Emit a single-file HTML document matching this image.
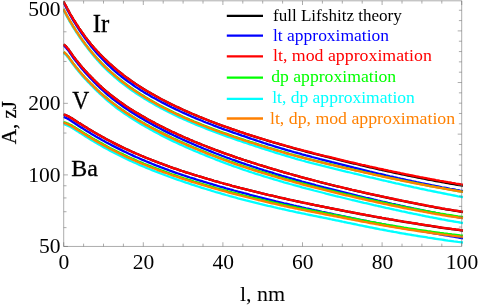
<!DOCTYPE html>
<html><head><meta charset="utf-8"><title>plot</title>
<style>
html,body{margin:0;padding:0;background:#fff;}
body{width:478px;height:305px;overflow:hidden;font-family:"Liberation Serif",serif;}
svg{display:block;font-family:"Liberation Serif",serif;will-change:transform;}
.curves path{fill:none;stroke-width:2.3;stroke-linejoin:round;}
</style></head><body>
<svg width="478" height="305" viewBox="0 0 478 305">
<rect width="478" height="305" fill="#fff"/>
<defs><clipPath id="cp"><rect x="63.2" y="-0.19999999999999996" width="400.2" height="246.64999999999998"/></clipPath></defs>
<g class="curves" clip-path="url(#cp)">
<path d="M63.5,1.4 64.2,2.8 65.0,4.3 65.8,5.7 66.5,7.1 67.2,8.6 68.0,9.9 68.8,11.3 69.5,12.7 70.2,14.0 71.0,15.3 71.8,16.6 72.5,17.8 73.2,19.1 74.0,20.3 74.8,21.5 75.5,22.7 76.2,23.9 77.0,25.0 77.8,26.2 78.5,27.3 79.2,28.4 80.0,29.5 80.8,30.6 81.5,31.7 82.2,32.8 83.0,33.8 83.8,34.9 84.5,35.9 85.2,36.9 86.0,37.9 86.8,38.8 87.5,39.8 88.2,40.8 89.0,41.7 89.8,42.6 90.5,43.6 91.2,44.5 92.0,45.4 92.8,46.2 93.5,47.1 94.2,48.0 95.0,48.8 95.8,49.7 96.5,50.5 97.2,51.3 98.0,52.1 98.8,52.9 99.5,53.7 100.0,54.2 102.0,56.3 104.0,58.3 106.0,60.2 108.0,62.1 110.0,64.0 112.0,65.7 114.0,67.5 116.0,69.2 118.0,70.8 120.0,72.4 122.0,74.0 124.0,75.6 126.0,77.1 128.0,78.5 130.0,80.0 132.0,81.4 134.0,82.8 136.0,84.1 138.0,85.4 140.0,86.7 142.0,88.0 144.0,89.2 146.0,90.5 148.0,91.7 150.0,92.8 152.0,94.0 154.0,95.1 156.0,96.2 158.0,97.3 160.0,98.4 162.0,99.5 164.0,100.5 166.0,101.6 168.0,102.6 170.0,103.6 172.0,104.6 174.0,105.5 176.0,106.5 178.0,107.4 180.0,108.4 182.0,109.3 184.0,110.2 186.0,111.1 188.0,112.0 190.0,112.9 192.0,113.7 194.0,114.6 196.0,115.4 198.0,116.3 200.0,117.1 202.0,117.9 204.0,118.7 206.0,119.5 208.0,120.3 210.0,121.1 212.0,121.8 214.0,122.6 216.0,123.4 218.0,124.1 220.0,124.8 222.0,125.6 224.0,126.3 226.0,127.0 228.0,127.7 230.0,128.4 232.0,129.1 234.0,129.8 236.0,130.5 238.0,131.2 240.0,131.9 242.0,132.5 244.0,133.2 246.0,133.9 248.0,134.5 250.0,135.2 252.0,135.8 254.0,136.4 256.0,137.1 258.0,137.7 260.0,138.3 262.0,138.9 264.0,139.5 266.0,140.2 268.0,140.8 270.0,141.4 272.0,142.0 274.0,142.6 276.0,143.1 278.0,143.7 280.0,144.3 282.0,144.9 284.0,145.5 286.0,146.0 288.0,146.6 290.0,147.2 292.0,147.7 294.0,148.3 296.0,148.8 298.0,149.4 300.0,149.9 302.0,150.5 304.0,151.0 306.0,151.6 308.0,152.1 310.0,152.6 312.0,153.1 314.0,153.7 316.0,154.2 318.0,154.7 320.0,155.2 322.0,155.7 324.0,156.2 326.0,156.7 328.0,157.2 330.0,157.7 332.0,158.2 334.0,158.7 336.0,159.2 338.0,159.7 340.0,160.2 342.0,160.7 344.0,161.2 346.0,161.6 348.0,162.1 350.0,162.6 352.0,163.1 354.0,163.5 356.0,164.0 358.0,164.5 360.0,165.0 362.0,165.4 364.0,165.9 366.0,166.4 368.0,166.8 370.0,167.3 372.0,167.7 374.0,168.2 376.0,168.6 378.0,169.1 380.0,169.5 382.0,170.0 384.0,170.4 386.0,170.9 388.0,171.3 390.0,171.7 392.0,172.1 394.0,172.6 396.0,173.0 398.0,173.4 400.0,173.8 402.0,174.3 404.0,174.7 406.0,175.1 408.0,175.5 410.0,175.9 412.0,176.3 414.0,176.7 416.0,177.1 418.0,177.5 420.0,177.9 422.0,178.3 424.0,178.7 426.0,179.1 428.0,179.5 430.0,179.9 432.0,180.2 434.0,180.6 436.0,181.0 438.0,181.3 440.0,181.7 442.0,182.1 444.0,182.4 446.0,182.8 448.0,183.1 450.0,183.5 452.0,183.8 454.0,184.2 456.0,184.5 458.0,184.9 460.0,185.2 462.0,185.6 463.0,185.7" stroke="#000000"/>
<path d="M63.5,2.4 64.2,3.8 65.0,5.3 65.8,6.8 66.5,8.2 67.2,9.6 68.0,11.1 68.8,12.4 69.5,13.8 70.2,15.2 71.0,16.5 71.8,17.8 72.5,19.1 73.2,20.4 74.0,21.6 74.8,22.8 75.5,24.0 76.2,25.2 77.0,26.4 77.8,27.6 78.5,28.7 79.2,29.9 80.0,31.0 80.8,32.2 81.5,33.3 82.2,34.4 83.0,35.4 83.8,36.5 84.5,37.6 85.2,38.6 86.0,39.6 86.8,40.6 87.5,41.6 88.2,42.6 89.0,43.6 89.8,44.6 90.5,45.5 91.2,46.5 92.0,47.4 92.8,48.3 93.5,49.2 94.2,50.1 95.0,51.0 95.8,51.9 96.5,52.7 97.2,53.6 98.0,54.4 98.8,55.3 99.5,56.1 100.0,56.6 102.0,58.8 104.0,60.8 106.0,62.9 108.0,64.8 110.0,66.7 112.0,68.6 114.0,70.4 116.0,72.1 118.0,73.8 120.0,75.4 122.0,77.0 124.0,78.5 126.0,80.0 128.0,81.5 130.0,82.9 132.0,84.3 134.0,85.7 136.0,87.1 138.0,88.4 140.0,89.7 142.0,90.9 144.0,92.2 146.0,93.4 148.0,94.6 150.0,95.7 152.0,96.9 154.0,98.0 156.0,99.1 158.0,100.2 160.0,101.3 162.0,102.4 164.0,103.4 166.0,104.4 168.0,105.5 170.0,106.5 172.0,107.5 174.0,108.4 176.0,109.4 178.0,110.3 180.0,111.3 182.0,112.2 184.0,113.1 186.0,114.0 188.0,114.9 190.0,115.8 192.0,116.7 194.0,117.5 196.0,118.4 198.0,119.2 200.0,120.0 202.0,120.8 204.0,121.7 206.0,122.5 208.0,123.2 210.0,124.0 212.0,124.8 214.0,125.6 216.0,126.3 218.0,127.1 220.0,127.8 222.0,128.6 224.0,129.3 226.0,130.0 228.0,130.7 230.0,131.4 232.0,132.1 234.0,132.8 236.0,133.5 238.0,134.2 240.0,134.9 242.0,135.6 244.0,136.2 246.0,136.9 248.0,137.6 250.0,138.3 252.0,139.0 254.0,139.6 256.0,140.3 258.0,141.0 260.0,141.6 262.0,142.3 264.0,143.0 266.0,143.6 268.0,144.3 270.0,144.9 272.0,145.5 274.0,146.2 276.0,146.8 278.0,147.4 280.0,148.0 282.0,148.6 284.0,149.2 286.0,149.8 288.0,150.4 290.0,150.9 292.0,151.5 294.0,152.1 296.0,152.6 298.0,153.2 300.0,153.7 302.0,154.3 304.0,154.8 306.0,155.4 308.0,155.9 310.0,156.4 312.0,157.0 314.0,157.5 316.0,158.0 318.0,158.5 320.0,159.1 322.0,159.6 324.0,160.1 326.0,160.6 328.0,161.1 330.0,161.6 332.0,162.2 334.0,162.7 336.0,163.2 338.0,163.7 340.0,164.2 342.0,164.7 344.0,165.2 346.0,165.7 348.0,166.2 350.0,166.7 352.0,167.2 354.0,167.7 356.0,168.1 358.0,168.6 360.0,169.1 362.0,169.6 364.0,170.1 366.0,170.6 368.0,171.1 370.0,171.6 372.0,172.0 374.0,172.5 376.0,173.0 378.0,173.5 380.0,174.0 382.0,174.4 384.0,174.9 386.0,175.4 388.0,175.8 390.0,176.3 392.0,176.7 394.0,177.2 396.0,177.6 398.0,178.1 400.0,178.5 402.0,179.0 404.0,179.4 406.0,179.9 408.0,180.3 410.0,180.7 412.0,181.2 414.0,181.6 416.0,182.0 418.0,182.5 420.0,182.9 422.0,183.3 424.0,183.7 426.0,184.1 428.0,184.5 430.0,184.9 432.0,185.3 434.0,185.7 436.0,186.1 438.0,186.5 440.0,186.9 442.0,187.3 444.0,187.6 446.0,188.0 448.0,188.4 450.0,188.8 452.0,189.1 454.0,189.5 456.0,189.9 458.0,190.2 460.0,190.6 462.0,190.9 463.0,191.1" stroke="#0000ff"/>
<path d="M63.5,1.4 64.2,2.8 65.0,4.3 65.8,5.7 66.5,7.1 67.2,8.6 68.0,9.9 68.8,11.3 69.5,12.7 70.2,14.0 71.0,15.3 71.8,16.6 72.5,17.8 73.2,19.1 74.0,20.3 74.8,21.5 75.5,22.7 76.2,23.9 77.0,25.0 77.8,26.2 78.5,27.3 79.2,28.4 80.0,29.5 80.8,30.6 81.5,31.7 82.2,32.8 83.0,33.8 83.8,34.8 84.5,35.9 85.2,36.9 86.0,37.9 86.8,38.8 87.5,39.8 88.2,40.8 89.0,41.7 89.8,42.6 90.5,43.6 91.2,44.5 92.0,45.4 92.8,46.2 93.5,47.1 94.2,48.0 95.0,48.8 95.8,49.7 96.5,50.5 97.2,51.3 98.0,52.1 98.8,52.9 99.5,53.7 100.0,54.2 102.0,56.3 104.0,58.3 106.0,60.2 108.0,62.1 110.0,63.9 112.0,65.7 114.0,67.5 116.0,69.2 118.0,70.8 120.0,72.4 122.0,74.0 124.0,75.6 126.0,77.1 128.0,78.5 130.0,80.0 132.0,81.4 134.0,82.7 136.0,84.1 138.0,85.4 140.0,86.7 142.0,88.0 144.0,89.2 146.0,90.4 148.0,91.6 150.0,92.8 152.0,94.0 154.0,95.1 156.0,96.2 158.0,97.3 160.0,98.4 162.0,99.5 164.0,100.5 166.0,101.5 168.0,102.6 170.0,103.6 172.0,104.5 174.0,105.5 176.0,106.5 178.0,107.4 180.0,108.3 182.0,109.3 184.0,110.2 186.0,111.1 188.0,111.9 190.0,112.8 192.0,113.7 194.0,114.5 196.0,115.4 198.0,116.2 200.0,117.0 202.0,117.8 204.0,118.6 206.0,119.4 208.0,120.2 210.0,121.0 212.0,121.8 214.0,122.5 216.0,123.3 218.0,124.0 220.0,124.8 222.0,125.5 224.0,126.2 226.0,126.9 228.0,127.7 230.0,128.4 232.0,129.1 234.0,129.7 236.0,130.4 238.0,131.1 240.0,131.8 242.0,132.4 244.0,133.1 246.0,133.8 248.0,134.4 250.0,135.1 252.0,135.7 254.0,136.3 256.0,136.9 258.0,137.6 260.0,138.2 262.0,138.8 264.0,139.4 266.0,140.0 268.0,140.6 270.0,141.2 272.0,141.8 274.0,142.4 276.0,143.0 278.0,143.5 280.0,144.1 282.0,144.7 284.0,145.2 286.0,145.8 288.0,146.4 290.0,146.9 292.0,147.5 294.0,148.0 296.0,148.5 298.0,149.1 300.0,149.6 302.0,150.1 304.0,150.7 306.0,151.2 308.0,151.7 310.0,152.2 312.0,152.7 314.0,153.3 316.0,153.8 318.0,154.3 320.0,154.8 322.0,155.3 324.0,155.8 326.0,156.3 328.0,156.7 330.0,157.2 332.0,157.7 334.0,158.2 336.0,158.7 338.0,159.2 340.0,159.6 342.0,160.1 344.0,160.6 346.0,161.1 348.0,161.5 350.0,162.0 352.0,162.5 354.0,162.9 356.0,163.4 358.0,163.9 360.0,164.3 362.0,164.8 364.0,165.2 366.0,165.7 368.0,166.1 370.0,166.6 372.0,167.0 374.0,167.5 376.0,167.9 378.0,168.4 380.0,168.8 382.0,169.2 384.0,169.7 386.0,170.1 388.0,170.5 390.0,171.0 392.0,171.4 394.0,171.8 396.0,172.2 398.0,172.6 400.0,173.0 402.0,173.5 404.0,173.9 406.0,174.3 408.0,174.7 410.0,175.1 412.0,175.5 414.0,175.9 416.0,176.3 418.0,176.7 420.0,177.1 422.0,177.4 424.0,177.8 426.0,178.2 428.0,178.6 430.0,179.0 432.0,179.3 434.0,179.7 436.0,180.1 438.0,180.4 440.0,180.8 442.0,181.1 444.0,181.5 446.0,181.8 448.0,182.2 450.0,182.5 452.0,182.9 454.0,183.2 456.0,183.6 458.0,183.9 460.0,184.2 462.0,184.6 463.0,184.7" stroke="#ff0000"/>
<path d="M63.5,9.2 64.2,10.6 65.0,12.0 65.8,13.4 66.5,14.8 67.2,16.1 68.0,17.5 68.8,18.8 69.5,20.1 70.2,21.4 71.0,22.7 71.8,23.9 72.5,25.1 73.2,26.4 74.0,27.5 74.8,28.7 75.5,29.9 76.2,31.0 77.0,32.2 77.8,33.3 78.5,34.4 79.2,35.5 80.0,36.6 80.8,37.7 81.5,38.8 82.2,39.9 83.0,40.9 83.8,41.9 84.5,43.0 85.2,44.0 86.0,45.0 86.8,45.9 87.5,46.9 88.2,47.9 89.0,48.8 89.8,49.8 90.5,50.7 91.2,51.6 92.0,52.5 92.8,53.4 93.5,54.3 94.2,55.1 95.0,56.0 95.8,56.8 96.5,57.7 97.2,58.5 98.0,59.3 98.8,60.1 99.5,60.9 100.0,61.4 102.0,63.5 104.0,65.5 106.0,67.5 108.0,69.4 110.0,71.2 112.0,73.0 114.0,74.7 116.0,76.4 118.0,78.0 120.0,79.6 122.0,81.2 124.0,82.7 126.0,84.2 128.0,85.7 130.0,87.1 132.0,88.5 134.0,89.9 136.0,91.2 138.0,92.5 140.0,93.8 142.0,95.1 144.0,96.3 146.0,97.6 148.0,98.7 150.0,99.9 152.0,101.1 154.0,102.2 156.0,103.3 158.0,104.4 160.0,105.5 162.0,106.5 164.0,107.6 166.0,108.6 168.0,109.6 170.0,110.6 172.0,111.6 174.0,112.6 176.0,113.5 178.0,114.4 180.0,115.4 182.0,116.3 184.0,117.2 186.0,118.1 188.0,118.9 190.0,119.8 192.0,120.6 194.0,121.5 196.0,122.3 198.0,123.1 200.0,123.9 202.0,124.7 204.0,125.5 206.0,126.3 208.0,127.1 210.0,127.8 212.0,128.6 214.0,129.4 216.0,130.1 218.0,130.8 220.0,131.6 222.0,132.3 224.0,133.0 226.0,133.7 228.0,134.4 230.0,135.1 232.0,135.8 234.0,136.5 236.0,137.1 238.0,137.8 240.0,138.5 242.0,139.2 244.0,139.8 246.0,140.5 248.0,141.1 250.0,141.8 252.0,142.4 254.0,143.1 256.0,143.7 258.0,144.3 260.0,145.0 262.0,145.6 264.0,146.2 266.0,146.8 268.0,147.5 270.0,148.1 272.0,148.7 274.0,149.3 276.0,149.9 278.0,150.5 280.0,151.1 282.0,151.7 284.0,152.2 286.0,152.8 288.0,153.4 290.0,154.0 292.0,154.5 294.0,155.1 296.0,155.6 298.0,156.2 300.0,156.7 302.0,157.2 304.0,157.8 306.0,158.3 308.0,158.8 310.0,159.3 312.0,159.8 314.0,160.3 316.0,160.8 318.0,161.3 320.0,161.8 322.0,162.3 324.0,162.8 326.0,163.3 328.0,163.8 330.0,164.2 332.0,164.7 334.0,165.2 336.0,165.6 338.0,166.1 340.0,166.6 342.0,167.0 344.0,167.5 346.0,168.0 348.0,168.4 350.0,168.9 352.0,169.3 354.0,169.8 356.0,170.3 358.0,170.7 360.0,171.2 362.0,171.6 364.0,172.1 366.0,172.5 368.0,173.0 370.0,173.4 372.0,173.9 374.0,174.3 376.0,174.8 378.0,175.2 380.0,175.7 382.0,176.1 384.0,176.6 386.0,177.0 388.0,177.4 390.0,177.8 392.0,178.3 394.0,178.7 396.0,179.1 398.0,179.5 400.0,180.0 402.0,180.4 404.0,180.8 406.0,181.2 408.0,181.6 410.0,182.0 412.0,182.4 414.0,182.8 416.0,183.2 418.0,183.6 420.0,184.0 422.0,184.4 424.0,184.8 426.0,185.2 428.0,185.6 430.0,186.0 432.0,186.3 434.0,186.7 436.0,187.1 438.0,187.4 440.0,187.8 442.0,188.2 444.0,188.5 446.0,188.9 448.0,189.2 450.0,189.6 452.0,189.9 454.0,190.3 456.0,190.6 458.0,191.0 460.0,191.3 462.0,191.7 463.0,191.8" stroke="#00ff00"/>
<path d="M63.5,10.1 64.2,11.5 65.0,12.9 65.8,14.3 66.5,15.7 67.2,17.1 68.0,18.4 68.8,19.7 69.5,21.1 70.2,22.4 71.0,23.6 71.8,24.9 72.5,26.1 73.2,27.3 74.0,28.5 74.8,29.7 75.5,30.9 76.2,32.1 77.0,33.2 77.8,34.3 78.5,35.5 79.2,36.6 80.0,37.7 80.8,38.8 81.5,39.9 82.2,41.0 83.0,42.0 83.8,43.1 84.5,44.1 85.2,45.1 86.0,46.1 86.8,47.1 87.5,48.1 88.2,49.1 89.0,50.0 89.8,51.0 90.5,51.9 91.2,52.8 92.0,53.8 92.8,54.7 93.5,55.6 94.2,56.5 95.0,57.4 95.8,58.2 96.5,59.1 97.2,59.9 98.0,60.8 98.8,61.6 99.5,62.4 100.0,63.0 102.0,65.1 104.0,67.2 106.0,69.2 108.0,71.1 110.0,72.9 112.0,74.7 114.0,76.5 116.0,78.2 118.0,79.9 120.0,81.5 122.0,83.1 124.0,84.6 126.0,86.1 128.0,87.6 130.0,89.1 132.0,90.5 134.0,91.9 136.0,93.2 138.0,94.5 140.0,95.8 142.0,97.1 144.0,98.4 146.0,99.6 148.0,100.8 150.0,102.0 152.0,103.1 154.0,104.3 156.0,105.4 158.0,106.5 160.0,107.6 162.0,108.6 164.0,109.7 166.0,110.7 168.0,111.7 170.0,112.8 172.0,113.7 174.0,114.7 176.0,115.7 178.0,116.6 180.0,117.6 182.0,118.5 184.0,119.4 186.0,120.3 188.0,121.2 190.0,122.0 192.0,122.9 194.0,123.7 196.0,124.6 198.0,125.4 200.0,126.2 202.0,127.0 204.0,127.8 206.0,128.6 208.0,129.4 210.0,130.2 212.0,130.9 214.0,131.7 216.0,132.4 218.0,133.2 220.0,133.9 222.0,134.7 224.0,135.4 226.0,136.1 228.0,136.8 230.0,137.5 232.0,138.2 234.0,138.9 236.0,139.6 238.0,140.3 240.0,141.0 242.0,141.6 244.0,142.3 246.0,143.0 248.0,143.6 250.0,144.3 252.0,145.0 254.0,145.6 256.0,146.3 258.0,146.9 260.0,147.6 262.0,148.3 264.0,148.9 266.0,149.6 268.0,150.2 270.0,150.8 272.0,151.5 274.0,152.1 276.0,152.8 278.0,153.4 280.0,154.0 282.0,154.6 284.0,155.2 286.0,155.8 288.0,156.4 290.0,157.0 292.0,157.6 294.0,158.2 296.0,158.8 298.0,159.4 300.0,159.9 302.0,160.5 304.0,161.0 306.0,161.6 308.0,162.1 310.0,162.6 312.0,163.2 314.0,163.7 316.0,164.2 318.0,164.7 320.0,165.2 322.0,165.7 324.0,166.2 326.0,166.7 328.0,167.2 330.0,167.7 332.0,168.2 334.0,168.7 336.0,169.2 338.0,169.6 340.0,170.1 342.0,170.6 344.0,171.1 346.0,171.6 348.0,172.0 350.0,172.5 352.0,173.0 354.0,173.5 356.0,173.9 358.0,174.4 360.0,174.9 362.0,175.4 364.0,175.8 366.0,176.3 368.0,176.8 370.0,177.3 372.0,177.7 374.0,178.2 376.0,178.7 378.0,179.1 380.0,179.6 382.0,180.1 384.0,180.5 386.0,181.0 388.0,181.5 390.0,181.9 392.0,182.4 394.0,182.8 396.0,183.3 398.0,183.7 400.0,184.2 402.0,184.6 404.0,185.1 406.0,185.5 408.0,186.0 410.0,186.4 412.0,186.8 414.0,187.3 416.0,187.7 418.0,188.1 420.0,188.6 422.0,189.0 424.0,189.4 426.0,189.8 428.0,190.3 430.0,190.7 432.0,191.1 434.0,191.5 436.0,191.9 438.0,192.3 440.0,192.7 442.0,193.1 444.0,193.5 446.0,193.9 448.0,194.3 450.0,194.7 452.0,195.1 454.0,195.5 456.0,195.9 458.0,196.3 460.0,196.6 462.0,197.0 463.0,197.2" stroke="#00ffff"/>
<path d="M63.5,9.2 64.2,10.6 65.0,12.0 65.8,13.4 66.5,14.8 67.2,16.2 68.0,17.5 68.8,18.8 69.5,20.1 70.2,21.4 71.0,22.7 71.8,24.0 72.5,25.2 73.2,26.4 74.0,27.6 74.8,28.8 75.5,30.0 76.2,31.1 77.0,32.3 77.8,33.4 78.5,34.5 79.2,35.6 80.0,36.7 80.8,37.8 81.5,38.9 82.2,40.0 83.0,41.0 83.8,42.1 84.5,43.1 85.2,44.1 86.0,45.1 86.8,46.1 87.5,47.1 88.2,48.0 89.0,49.0 89.8,49.9 90.5,50.8 91.2,51.8 92.0,52.7 92.8,53.6 93.5,54.4 94.2,55.3 95.0,56.2 95.8,57.0 96.5,57.9 97.2,58.7 98.0,59.5 98.8,60.3 99.5,61.1 100.0,61.7 102.0,63.7 104.0,65.8 106.0,67.7 108.0,69.6 110.0,71.4 112.0,73.2 114.0,75.0 116.0,76.7 118.0,78.3 120.0,79.9 122.0,81.5 124.0,83.1 126.0,84.6 128.0,86.0 130.0,87.5 132.0,88.9 134.0,90.2 136.0,91.6 138.0,92.9 140.0,94.2 142.0,95.5 144.0,96.7 146.0,97.9 148.0,99.1 150.0,100.3 152.0,101.5 154.0,102.6 156.0,103.7 158.0,104.8 160.0,105.9 162.0,107.0 164.0,108.0 166.0,109.0 168.0,110.1 170.0,111.1 172.0,112.0 174.0,113.0 176.0,114.0 178.0,114.9 180.0,115.8 182.0,116.7 184.0,117.6 186.0,118.5 188.0,119.4 190.0,120.3 192.0,121.1 194.0,122.0 196.0,122.8 198.0,123.6 200.0,124.4 202.0,125.2 204.0,126.0 206.0,126.8 208.0,127.6 210.0,128.3 212.0,129.1 214.0,129.8 216.0,130.6 218.0,131.3 220.0,132.1 222.0,132.8 224.0,133.5 226.0,134.2 228.0,134.9 230.0,135.6 232.0,136.3 234.0,137.0 236.0,137.6 238.0,138.3 240.0,139.0 242.0,139.6 244.0,140.3 246.0,141.0 248.0,141.6 250.0,142.3 252.0,142.9 254.0,143.5 256.0,144.2 258.0,144.8 260.0,145.4 262.0,146.1 264.0,146.7 266.0,147.3 268.0,147.9 270.0,148.5 272.0,149.1 274.0,149.7 276.0,150.3 278.0,150.9 280.0,151.5 282.0,152.1 284.0,152.7 286.0,153.3 288.0,153.8 290.0,154.4 292.0,154.9 294.0,155.5 296.0,156.0 298.0,156.6 300.0,157.1 302.0,157.6 304.0,158.2 306.0,158.7 308.0,159.2 310.0,159.7 312.0,160.2 314.0,160.7 316.0,161.2 318.0,161.7 320.0,162.2 322.0,162.7 324.0,163.2 326.0,163.6 328.0,164.1 330.0,164.6 332.0,165.0 334.0,165.5 336.0,166.0 338.0,166.4 340.0,166.9 342.0,167.4 344.0,167.8 346.0,168.3 348.0,168.7 350.0,169.2 352.0,169.6 354.0,170.1 356.0,170.5 358.0,171.0 360.0,171.4 362.0,171.9 364.0,172.4 366.0,172.8 368.0,173.2 370.0,173.7 372.0,174.1 374.0,174.6 376.0,175.0 378.0,175.5 380.0,175.9 382.0,176.3 384.0,176.8 386.0,177.2 388.0,177.6 390.0,178.1 392.0,178.5 394.0,178.9 396.0,179.3 398.0,179.7 400.0,180.1 402.0,180.6 404.0,181.0 406.0,181.4 408.0,181.8 410.0,182.2 412.0,182.6 414.0,183.0 416.0,183.4 418.0,183.8 420.0,184.2 422.0,184.5 424.0,184.9 426.0,185.3 428.0,185.7 430.0,186.1 432.0,186.4 434.0,186.8 436.0,187.2 438.0,187.5 440.0,187.9 442.0,188.2 444.0,188.6 446.0,188.9 448.0,189.3 450.0,189.6 452.0,190.0 454.0,190.3 456.0,190.7 458.0,191.0 460.0,191.3 462.0,191.7 463.0,191.8" stroke="#ff8000"/>
<path d="M63.5,44.5 64.2,44.9 65.0,45.5 65.8,46.2 66.5,47.0 67.2,47.9 68.0,48.8 68.8,49.8 69.5,50.9 70.2,51.9 71.0,53.0 71.8,54.1 72.5,55.2 73.2,56.2 74.0,57.2 74.8,58.2 75.5,59.2 76.2,60.1 77.0,61.1 77.8,62.0 78.5,62.9 79.2,63.8 80.0,64.8 80.8,65.7 81.5,66.6 82.2,67.4 83.0,68.3 83.8,69.1 84.5,70.0 85.2,70.8 86.0,71.6 86.8,72.4 87.5,73.2 88.2,74.0 89.0,74.8 89.8,75.6 90.5,76.3 91.2,77.1 92.0,77.9 92.8,78.6 93.5,79.4 94.2,80.2 95.0,80.9 95.8,81.7 96.5,82.4 97.2,83.1 98.0,83.9 98.8,84.6 99.5,85.3 100.0,85.7 102.0,87.6 104.0,89.3 106.0,91.1 108.0,92.7 110.0,94.4 112.0,96.0 114.0,97.5 116.0,99.0 118.0,100.5 120.0,101.9 122.0,103.3 124.0,104.7 126.0,106.1 128.0,107.4 130.0,108.7 132.0,109.9 134.0,111.2 136.0,112.4 138.0,113.6 140.0,114.8 142.0,116.0 144.0,117.1 146.0,118.3 148.0,119.4 150.0,120.5 152.0,121.6 154.0,122.6 156.0,123.7 158.0,124.7 160.0,125.8 162.0,126.8 164.0,127.8 166.0,128.8 168.0,129.7 170.0,130.7 172.0,131.7 174.0,132.6 176.0,133.5 178.0,134.5 180.0,135.4 182.0,136.3 184.0,137.2 186.0,138.0 188.0,138.9 190.0,139.8 192.0,140.6 194.0,141.5 196.0,142.3 198.0,143.1 200.0,143.9 202.0,144.7 204.0,145.5 206.0,146.3 208.0,147.1 210.0,147.9 212.0,148.7 214.0,149.4 216.0,150.2 218.0,150.9 220.0,151.6 222.0,152.4 224.0,153.1 226.0,153.8 228.0,154.5 230.0,155.2 232.0,155.9 234.0,156.6 236.0,157.3 238.0,158.0 240.0,158.6 242.0,159.3 244.0,160.0 246.0,160.6 248.0,161.3 250.0,161.9 252.0,162.6 254.0,163.2 256.0,163.8 258.0,164.5 260.0,165.1 262.0,165.7 264.0,166.3 266.0,166.9 268.0,167.6 270.0,168.2 272.0,168.8 274.0,169.4 276.0,169.9 278.0,170.5 280.0,171.1 282.0,171.7 284.0,172.3 286.0,172.8 288.0,173.4 290.0,174.0 292.0,174.5 294.0,175.1 296.0,175.7 298.0,176.2 300.0,176.8 302.0,177.3 304.0,177.8 306.0,178.4 308.0,178.9 310.0,179.4 312.0,180.0 314.0,180.5 316.0,181.0 318.0,181.5 320.0,182.1 322.0,182.6 324.0,183.1 326.0,183.6 328.0,184.1 330.0,184.6 332.0,185.1 334.0,185.6 336.0,186.1 338.0,186.5 340.0,187.0 342.0,187.5 344.0,188.0 346.0,188.5 348.0,188.9 350.0,189.4 352.0,189.9 354.0,190.3 356.0,190.8 358.0,191.3 360.0,191.7 362.0,192.2 364.0,192.6 366.0,193.1 368.0,193.5 370.0,194.0 372.0,194.4 374.0,194.9 376.0,195.3 378.0,195.7 380.0,196.2 382.0,196.6 384.0,197.0 386.0,197.5 388.0,197.9 390.0,198.3 392.0,198.7 394.0,199.1 396.0,199.6 398.0,200.0 400.0,200.4 402.0,200.8 404.0,201.2 406.0,201.6 408.0,202.0 410.0,202.4 412.0,202.8 414.0,203.2 416.0,203.6 418.0,204.0 420.0,204.4 422.0,204.8 424.0,205.2 426.0,205.6 428.0,205.9 430.0,206.3 432.0,206.7 434.0,207.1 436.0,207.5 438.0,207.8 440.0,208.2 442.0,208.6 444.0,208.9 446.0,209.3 448.0,209.6 450.0,209.9 452.0,210.2 454.0,210.6 456.0,210.9 458.0,211.2 460.0,211.5 462.0,211.8 463.0,212.0" stroke="#000000"/>
<path d="M63.5,45.7 64.2,46.1 65.0,46.7 65.8,47.5 66.5,48.3 67.2,49.2 68.0,50.1 68.8,51.1 69.5,52.2 70.2,53.3 71.0,54.4 71.8,55.5 72.5,56.6 73.2,57.7 74.0,58.7 74.8,59.7 75.5,60.7 76.2,61.6 77.0,62.6 77.8,63.5 78.5,64.5 79.2,65.4 80.0,66.4 80.8,67.3 81.5,68.2 82.2,69.1 83.0,70.0 83.8,70.8 84.5,71.7 85.2,72.5 86.0,73.4 86.8,74.2 87.5,75.0 88.2,75.8 89.0,76.6 89.8,77.4 90.5,78.2 91.2,79.0 92.0,79.8 92.8,80.6 93.5,81.4 94.2,82.1 95.0,82.9 95.8,83.7 96.5,84.4 97.2,85.2 98.0,85.9 98.8,86.6 99.5,87.4 100.0,87.8 102.0,89.7 104.0,91.5 106.0,93.3 108.0,95.0 110.0,96.7 112.0,98.3 114.0,99.9 116.0,101.4 118.0,102.9 120.0,104.4 122.0,105.8 124.0,107.2 126.0,108.5 128.0,109.9 130.0,111.2 132.0,112.5 134.0,113.8 136.0,115.0 138.0,116.2 140.0,117.4 142.0,118.6 144.0,119.8 146.0,120.9 148.0,122.1 150.0,123.2 152.0,124.3 154.0,125.4 156.0,126.4 158.0,127.5 160.0,128.5 162.0,129.6 164.0,130.6 166.0,131.6 168.0,132.6 170.0,133.6 172.0,134.5 174.0,135.5 176.0,136.4 178.0,137.4 180.0,138.3 182.0,139.2 184.0,140.1 186.0,141.0 188.0,141.9 190.0,142.8 192.0,143.6 194.0,144.5 196.0,145.4 198.0,146.2 200.0,147.0 202.0,147.9 204.0,148.7 206.0,149.5 208.0,150.3 210.0,151.1 212.0,151.9 214.0,152.7 216.0,153.5 218.0,154.2 220.0,155.0 222.0,155.8 224.0,156.5 226.0,157.3 228.0,158.0 230.0,158.7 232.0,159.5 234.0,160.2 236.0,160.9 238.0,161.6 240.0,162.3 242.0,163.0 244.0,163.7 246.0,164.4 248.0,165.0 250.0,165.7 252.0,166.4 254.0,167.0 256.0,167.7 258.0,168.4 260.0,169.0 262.0,169.6 264.0,170.3 266.0,170.9 268.0,171.5 270.0,172.1 272.0,172.7 274.0,173.4 276.0,174.0 278.0,174.6 280.0,175.2 282.0,175.8 284.0,176.3 286.0,176.9 288.0,177.5 290.0,178.1 292.0,178.7 294.0,179.2 296.0,179.8 298.0,180.3 300.0,180.9 302.0,181.5 304.0,182.0 306.0,182.6 308.0,183.1 310.0,183.6 312.0,184.2 314.0,184.7 316.0,185.3 318.0,185.8 320.0,186.3 322.0,186.8 324.0,187.4 326.0,187.9 328.0,188.4 330.0,188.9 332.0,189.4 334.0,189.9 336.0,190.4 338.0,190.9 340.0,191.4 342.0,191.9 344.0,192.4 346.0,192.9 348.0,193.4 350.0,193.9 352.0,194.4 354.0,194.9 356.0,195.4 358.0,195.9 360.0,196.3 362.0,196.8 364.0,197.3 366.0,197.8 368.0,198.2 370.0,198.7 372.0,199.2 374.0,199.7 376.0,200.1 378.0,200.6 380.0,201.0 382.0,201.5 384.0,202.0 386.0,202.4 388.0,202.9 390.0,203.3 392.0,203.8 394.0,204.2 396.0,204.7 398.0,205.1 400.0,205.5 402.0,206.0 404.0,206.4 406.0,206.9 408.0,207.3 410.0,207.7 412.0,208.1 414.0,208.6 416.0,209.0 418.0,209.4 420.0,209.8 422.0,210.2 424.0,210.7 426.0,211.1 428.0,211.5 430.0,211.9 432.0,212.3 434.0,212.7 436.0,213.1 438.0,213.5 440.0,213.9 442.0,214.3 444.0,214.7 446.0,215.0 448.0,215.4 450.0,215.7 452.0,216.1 454.0,216.4 456.0,216.8 458.0,217.1 460.0,217.5 462.0,217.8 463.0,218.0" stroke="#0000ff"/>
<path d="M63.5,44.5 64.2,44.9 65.0,45.5 65.8,46.2 66.5,47.0 67.2,47.9 68.0,48.8 68.8,49.8 69.5,50.9 70.2,51.9 71.0,53.0 71.8,54.1 72.5,55.2 73.2,56.2 74.0,57.2 74.8,58.2 75.5,59.2 76.2,60.1 77.0,61.1 77.8,62.0 78.5,62.9 79.2,63.8 80.0,64.8 80.8,65.7 81.5,66.6 82.2,67.4 83.0,68.3 83.8,69.1 84.5,70.0 85.2,70.8 86.0,71.6 86.8,72.4 87.5,73.2 88.2,74.0 89.0,74.8 89.8,75.6 90.5,76.3 91.2,77.1 92.0,77.9 92.8,78.6 93.5,79.4 94.2,80.2 95.0,80.9 95.8,81.7 96.5,82.4 97.2,83.1 98.0,83.9 98.8,84.6 99.5,85.3 100.0,85.7 102.0,87.6 104.0,89.3 106.0,91.1 108.0,92.7 110.0,94.4 112.0,96.0 114.0,97.5 116.0,99.0 118.0,100.5 120.0,101.9 122.0,103.3 124.0,104.7 126.0,106.1 128.0,107.4 130.0,108.7 132.0,109.9 134.0,111.2 136.0,112.4 138.0,113.6 140.0,114.8 142.0,116.0 144.0,117.1 146.0,118.3 148.0,119.4 150.0,120.5 152.0,121.6 154.0,122.6 156.0,123.7 158.0,124.7 160.0,125.8 162.0,126.8 164.0,127.8 166.0,128.8 168.0,129.7 170.0,130.7 172.0,131.7 174.0,132.6 176.0,133.5 178.0,134.5 180.0,135.4 182.0,136.3 184.0,137.2 186.0,138.0 188.0,138.9 190.0,139.8 192.0,140.6 194.0,141.5 196.0,142.3 198.0,143.1 200.0,143.9 202.0,144.7 204.0,145.5 206.0,146.3 208.0,147.1 210.0,147.9 212.0,148.7 214.0,149.4 216.0,150.2 218.0,150.9 220.0,151.6 222.0,152.4 224.0,153.1 226.0,153.8 228.0,154.5 230.0,155.2 232.0,155.9 234.0,156.6 236.0,157.3 238.0,158.0 240.0,158.6 242.0,159.3 244.0,160.0 246.0,160.6 248.0,161.3 250.0,161.9 252.0,162.6 254.0,163.2 256.0,163.8 258.0,164.5 260.0,165.1 262.0,165.7 264.0,166.3 266.0,166.9 268.0,167.5 270.0,168.1 272.0,168.7 274.0,169.3 276.0,169.9 278.0,170.5 280.0,171.1 282.0,171.7 284.0,172.3 286.0,172.8 288.0,173.4 290.0,174.0 292.0,174.5 294.0,175.1 296.0,175.6 298.0,176.2 300.0,176.7 302.0,177.3 304.0,177.8 306.0,178.3 308.0,178.9 310.0,179.4 312.0,179.9 314.0,180.4 316.0,181.0 318.0,181.5 320.0,182.0 322.0,182.5 324.0,183.0 326.0,183.5 328.0,184.0 330.0,184.5 332.0,185.0 334.0,185.5 336.0,186.0 338.0,186.5 340.0,186.9 342.0,187.4 344.0,187.9 346.0,188.4 348.0,188.8 350.0,189.3 352.0,189.8 354.0,190.2 356.0,190.7 358.0,191.2 360.0,191.6 362.0,192.1 364.0,192.5 366.0,193.0 368.0,193.4 370.0,193.9 372.0,194.3 374.0,194.7 376.0,195.2 378.0,195.6 380.0,196.0 382.0,196.5 384.0,196.9 386.0,197.3 388.0,197.7 390.0,198.2 392.0,198.6 394.0,199.0 396.0,199.4 398.0,199.8 400.0,200.2 402.0,200.7 404.0,201.1 406.0,201.5 408.0,201.9 410.0,202.3 412.0,202.7 414.0,203.1 416.0,203.5 418.0,203.9 420.0,204.2 422.0,204.6 424.0,205.0 426.0,205.4 428.0,205.8 430.0,206.2 432.0,206.5 434.0,206.9 436.0,207.3 438.0,207.6 440.0,208.0 442.0,208.4 444.0,208.7 446.0,209.1 448.0,209.4 450.0,209.7 452.0,210.1 454.0,210.4 456.0,210.7 458.0,211.0 460.0,211.3 462.0,211.6 463.0,211.8" stroke="#ff0000"/>
<path d="M63.5,52.2 64.2,52.6 65.0,53.1 65.8,53.8 66.5,54.6 67.2,55.4 68.0,56.3 68.8,57.3 69.5,58.3 70.2,59.4 71.0,60.4 71.8,61.5 72.5,62.5 73.2,63.5 74.0,64.5 74.8,65.5 75.5,66.4 76.2,67.3 77.0,68.3 77.8,69.2 78.5,70.1 79.2,71.0 80.0,71.9 80.8,72.7 81.5,73.6 82.2,74.5 83.0,75.3 83.8,76.1 84.5,77.0 85.2,77.8 86.0,78.6 86.8,79.3 87.5,80.1 88.2,80.9 89.0,81.6 89.8,82.4 90.5,83.2 91.2,83.9 92.0,84.7 92.8,85.4 93.5,86.2 94.2,86.9 95.0,87.6 95.8,88.4 96.5,89.1 97.2,89.8 98.0,90.5 98.8,91.2 99.5,91.9 100.0,92.3 102.0,94.1 104.0,95.9 106.0,97.5 108.0,99.2 110.0,100.8 112.0,102.4 114.0,103.9 116.0,105.4 118.0,106.9 120.0,108.3 122.0,109.7 124.0,111.0 126.0,112.4 128.0,113.7 130.0,115.0 132.0,116.2 134.0,117.4 136.0,118.7 138.0,119.9 140.0,121.0 142.0,122.2 144.0,123.3 146.0,124.5 148.0,125.6 150.0,126.7 152.0,127.7 154.0,128.8 156.0,129.8 158.0,130.9 160.0,131.9 162.0,132.9 164.0,133.9 166.0,134.9 168.0,135.9 170.0,136.8 172.0,137.8 174.0,138.7 176.0,139.6 178.0,140.6 180.0,141.5 182.0,142.4 184.0,143.3 186.0,144.1 188.0,145.0 190.0,145.9 192.0,146.7 194.0,147.6 196.0,148.4 198.0,149.2 200.0,150.0 202.0,150.8 204.0,151.6 206.0,152.4 208.0,153.2 210.0,154.0 212.0,154.8 214.0,155.5 216.0,156.3 218.0,157.1 220.0,157.8 222.0,158.6 224.0,159.3 226.0,160.0 228.0,160.7 230.0,161.5 232.0,162.2 234.0,162.9 236.0,163.6 238.0,164.3 240.0,164.9 242.0,165.6 244.0,166.3 246.0,167.0 248.0,167.6 250.0,168.3 252.0,168.9 254.0,169.5 256.0,170.2 258.0,170.8 260.0,171.4 262.0,172.0 264.0,172.6 266.0,173.2 268.0,173.8 270.0,174.4 272.0,175.0 274.0,175.6 276.0,176.2 278.0,176.8 280.0,177.3 282.0,177.9 284.0,178.5 286.0,179.0 288.0,179.6 290.0,180.1 292.0,180.7 294.0,181.2 296.0,181.8 298.0,182.3 300.0,182.8 302.0,183.4 304.0,183.9 306.0,184.4 308.0,184.9 310.0,185.5 312.0,186.0 314.0,186.5 316.0,187.0 318.0,187.5 320.0,188.0 322.0,188.5 324.0,189.0 326.0,189.5 328.0,190.0 330.0,190.5 332.0,190.9 334.0,191.4 336.0,191.9 338.0,192.4 340.0,192.9 342.0,193.3 344.0,193.8 346.0,194.3 348.0,194.7 350.0,195.2 352.0,195.7 354.0,196.1 356.0,196.6 358.0,197.0 360.0,197.5 362.0,197.9 364.0,198.4 366.0,198.8 368.0,199.3 370.0,199.7 372.0,200.1 374.0,200.6 376.0,201.0 378.0,201.4 380.0,201.9 382.0,202.3 384.0,202.7 386.0,203.1 388.0,203.6 390.0,204.0 392.0,204.4 394.0,204.8 396.0,205.2 398.0,205.6 400.0,206.0 402.0,206.5 404.0,206.9 406.0,207.3 408.0,207.7 410.0,208.1 412.0,208.4 414.0,208.8 416.0,209.2 418.0,209.6 420.0,210.0 422.0,210.3 424.0,210.7 426.0,211.1 428.0,211.5 430.0,211.8 432.0,212.2 434.0,212.5 436.0,212.9 438.0,213.2 440.0,213.6 442.0,213.9 444.0,214.2 446.0,214.6 448.0,214.9 450.0,215.2 452.0,215.5 454.0,215.8 456.0,216.1 458.0,216.4 460.0,216.6 462.0,216.9 463.0,217.1" stroke="#00ff00"/>
<path d="M63.5,53.2 64.2,53.6 65.0,54.2 65.8,54.8 66.5,55.6 67.2,56.5 68.0,57.4 68.8,58.4 69.5,59.4 70.2,60.4 71.0,61.5 71.8,62.6 72.5,63.6 73.2,64.6 74.0,65.6 74.8,66.6 75.5,67.5 76.2,68.5 77.0,69.4 77.8,70.3 78.5,71.2 79.2,72.1 80.0,73.1 80.8,74.0 81.5,74.8 82.2,75.7 83.0,76.6 83.8,77.4 84.5,78.2 85.2,79.0 86.0,79.8 86.8,80.6 87.5,81.4 88.2,82.2 89.0,83.0 89.8,83.7 90.5,84.5 91.2,85.3 92.0,86.0 92.8,86.8 93.5,87.6 94.2,88.3 95.0,89.1 95.8,89.8 96.5,90.6 97.2,91.3 98.0,92.0 98.8,92.7 99.5,93.4 100.0,93.9 102.0,95.7 104.0,97.5 106.0,99.3 108.0,101.0 110.0,102.7 112.0,104.3 114.0,105.9 116.0,107.5 118.0,109.0 120.0,110.4 122.0,111.9 124.0,113.2 126.0,114.6 128.0,115.9 130.0,117.3 132.0,118.5 134.0,119.8 136.0,121.1 138.0,122.3 140.0,123.5 142.0,124.7 144.0,125.8 146.0,127.0 148.0,128.1 150.0,129.2 152.0,130.3 154.0,131.4 156.0,132.5 158.0,133.5 160.0,134.6 162.0,135.6 164.0,136.6 166.0,137.6 168.0,138.6 170.0,139.6 172.0,140.6 174.0,141.6 176.0,142.5 178.0,143.4 180.0,144.4 182.0,145.3 184.0,146.2 186.0,147.1 188.0,148.0 190.0,148.9 192.0,149.7 194.0,150.6 196.0,151.5 198.0,152.3 200.0,153.1 202.0,154.0 204.0,154.8 206.0,155.6 208.0,156.4 210.0,157.2 212.0,158.0 214.0,158.8 216.0,159.6 218.0,160.3 220.0,161.1 222.0,161.9 224.0,162.6 226.0,163.4 228.0,164.1 230.0,164.8 232.0,165.6 234.0,166.3 236.0,167.0 238.0,167.7 240.0,168.4 242.0,169.1 244.0,169.8 246.0,170.5 248.0,171.1 250.0,171.8 252.0,172.5 254.0,173.1 256.0,173.8 258.0,174.4 260.0,175.0 262.0,175.7 264.0,176.3 266.0,176.9 268.0,177.5 270.0,178.1 272.0,178.7 274.0,179.3 276.0,179.9 278.0,180.5 280.0,181.1 282.0,181.7 284.0,182.3 286.0,182.8 288.0,183.4 290.0,184.0 292.0,184.5 294.0,185.1 296.0,185.6 298.0,186.2 300.0,186.7 302.0,187.3 304.0,187.8 306.0,188.4 308.0,188.9 310.0,189.4 312.0,189.9 314.0,190.5 316.0,191.0 318.0,191.5 320.0,192.0 322.0,192.5 324.0,193.0 326.0,193.6 328.0,194.1 330.0,194.6 332.0,195.1 334.0,195.6 336.0,196.1 338.0,196.5 340.0,197.0 342.0,197.5 344.0,198.0 346.0,198.5 348.0,199.0 350.0,199.5 352.0,200.0 354.0,200.4 356.0,200.9 358.0,201.4 360.0,201.8 362.0,202.3 364.0,202.8 366.0,203.2 368.0,203.7 370.0,204.2 372.0,204.6 374.0,205.1 376.0,205.5 378.0,206.0 380.0,206.4 382.0,206.9 384.0,207.3 386.0,207.8 388.0,208.2 390.0,208.7 392.0,209.1 394.0,209.5 396.0,210.0 398.0,210.4 400.0,210.8 402.0,211.3 404.0,211.7 406.0,212.1 408.0,212.6 410.0,213.0 412.0,213.4 414.0,213.8 416.0,214.2 418.0,214.6 420.0,215.0 422.0,215.5 424.0,215.9 426.0,216.3 428.0,216.7 430.0,217.1 432.0,217.4 434.0,217.8 436.0,218.2 438.0,218.6 440.0,219.0 442.0,219.4 444.0,219.7 446.0,220.1 448.0,220.5 450.0,220.8 452.0,221.1 454.0,221.5 456.0,221.8 458.0,222.1 460.0,222.5 462.0,222.8 463.0,223.0" stroke="#00ffff"/>
<path d="M63.5,52.2 64.2,52.6 65.0,53.1 65.8,53.8 66.5,54.6 67.2,55.4 68.0,56.4 68.8,57.3 69.5,58.4 70.2,59.4 71.0,60.5 71.8,61.6 72.5,62.6 73.2,63.6 74.0,64.6 74.8,65.5 75.5,66.5 76.2,67.4 77.0,68.3 77.8,69.2 78.5,70.2 79.2,71.1 80.0,72.0 80.8,72.8 81.5,73.7 82.2,74.6 83.0,75.4 83.8,76.3 84.5,77.1 85.2,77.9 86.0,78.7 86.8,79.5 87.5,80.2 88.2,81.0 89.0,81.8 89.8,82.5 90.5,83.3 91.2,84.1 92.0,84.8 92.8,85.6 93.5,86.3 94.2,87.1 95.0,87.8 95.8,88.5 96.5,89.3 97.2,90.0 98.0,90.7 98.8,91.4 99.5,92.1 100.0,92.5 102.0,94.3 104.0,96.1 106.0,97.8 108.0,99.4 110.0,101.1 112.0,102.7 114.0,104.2 116.0,105.7 118.0,107.2 120.0,108.6 122.0,110.0 124.0,111.4 126.0,112.7 128.0,114.0 130.0,115.3 132.0,116.6 134.0,117.8 136.0,119.0 138.0,120.2 140.0,121.4 142.0,122.6 144.0,123.7 146.0,124.9 148.0,126.0 150.0,127.1 152.0,128.2 154.0,129.2 156.0,130.3 158.0,131.3 160.0,132.4 162.0,133.4 164.0,134.4 166.0,135.4 168.0,136.4 170.0,137.3 172.0,138.3 174.0,139.2 176.0,140.2 178.0,141.1 180.0,142.0 182.0,142.9 184.0,143.8 186.0,144.7 188.0,145.6 190.0,146.4 192.0,147.3 194.0,148.1 196.0,149.0 198.0,149.8 200.0,150.6 202.0,151.4 204.0,152.3 206.0,153.1 208.0,153.9 210.0,154.6 212.0,155.4 214.0,156.2 216.0,157.0 218.0,157.7 220.0,158.5 222.0,159.2 224.0,160.0 226.0,160.7 228.0,161.4 230.0,162.1 232.0,162.9 234.0,163.6 236.0,164.3 238.0,165.0 240.0,165.7 242.0,166.3 244.0,167.0 246.0,167.7 248.0,168.3 250.0,169.0 252.0,169.7 254.0,170.3 256.0,170.9 258.0,171.6 260.0,172.2 262.0,172.8 264.0,173.4 266.0,174.0 268.0,174.6 270.0,175.2 272.0,175.8 274.0,176.4 276.0,177.0 278.0,177.6 280.0,178.2 282.0,178.7 284.0,179.3 286.0,179.9 288.0,180.4 290.0,181.0 292.0,181.5 294.0,182.1 296.0,182.6 298.0,183.2 300.0,183.7 302.0,184.3 304.0,184.8 306.0,185.3 308.0,185.8 310.0,186.4 312.0,186.9 314.0,187.4 316.0,187.9 318.0,188.4 320.0,188.9 322.0,189.4 324.0,189.9 326.0,190.4 328.0,190.9 330.0,191.4 332.0,191.9 334.0,192.4 336.0,192.9 338.0,193.4 340.0,193.8 342.0,194.3 344.0,194.8 346.0,195.3 348.0,195.7 350.0,196.2 352.0,196.7 354.0,197.1 356.0,197.6 358.0,198.1 360.0,198.5 362.0,199.0 364.0,199.4 366.0,199.9 368.0,200.3 370.0,200.8 372.0,201.2 374.0,201.6 376.0,202.1 378.0,202.5 380.0,202.9 382.0,203.4 384.0,203.8 386.0,204.2 388.0,204.6 390.0,205.1 392.0,205.5 394.0,205.9 396.0,206.3 398.0,206.7 400.0,207.1 402.0,207.6 404.0,208.0 406.0,208.4 408.0,208.8 410.0,209.2 412.0,209.5 414.0,209.9 416.0,210.3 418.0,210.7 420.0,211.1 422.0,211.4 424.0,211.8 426.0,212.2 428.0,212.6 430.0,212.9 432.0,213.3 434.0,213.6 436.0,214.0 438.0,214.3 440.0,214.7 442.0,215.0 444.0,215.3 446.0,215.7 448.0,216.0 450.0,216.3 452.0,216.6 454.0,216.9 456.0,217.2 458.0,217.5 460.0,217.7 462.0,218.0 463.0,218.2" stroke="#ff8000"/>
<path d="M63.5,114.5 64.2,114.7 65.0,114.9 65.8,115.2 66.5,115.5 67.2,115.8 68.0,116.2 68.8,116.6 69.5,117.0 70.2,117.4 71.0,117.9 71.8,118.3 72.5,118.8 73.2,119.3 74.0,119.7 74.8,120.2 75.5,120.7 76.2,121.2 77.0,121.7 77.8,122.2 78.5,122.7 79.2,123.1 80.0,123.6 80.8,124.1 81.5,124.6 82.2,125.0 83.0,125.5 83.8,126.0 84.5,126.4 85.2,126.9 86.0,127.3 86.8,127.8 87.5,128.3 88.2,128.7 89.0,129.2 89.8,129.6 90.5,130.1 91.2,130.5 92.0,131.0 92.8,131.4 93.5,131.9 94.2,132.3 95.0,132.7 95.8,133.2 96.5,133.6 97.2,134.0 98.0,134.5 98.8,134.9 99.5,135.3 100.0,135.6 102.0,136.7 104.0,137.8 106.0,138.9 108.0,140.0 110.0,141.0 112.0,142.1 114.0,143.1 116.0,144.1 118.0,145.1 120.0,146.1 122.0,147.1 124.0,148.0 126.0,149.0 128.0,149.9 130.0,150.8 132.0,151.7 134.0,152.6 136.0,153.5 138.0,154.3 140.0,155.2 142.0,156.0 144.0,156.9 146.0,157.7 148.0,158.5 150.0,159.3 152.0,160.1 154.0,160.9 156.0,161.7 158.0,162.4 160.0,163.2 162.0,163.9 164.0,164.7 166.0,165.4 168.0,166.1 170.0,166.9 172.0,167.6 174.0,168.3 176.0,168.9 178.0,169.6 180.0,170.3 182.0,171.0 184.0,171.6 186.0,172.3 188.0,172.9 190.0,173.5 192.0,174.2 194.0,174.8 196.0,175.4 198.0,176.0 200.0,176.6 202.0,177.2 204.0,177.8 206.0,178.4 208.0,179.0 210.0,179.6 212.0,180.2 214.0,180.8 216.0,181.3 218.0,181.9 220.0,182.5 222.0,183.0 224.0,183.6 226.0,184.1 228.0,184.7 230.0,185.2 232.0,185.8 234.0,186.3 236.0,186.8 238.0,187.3 240.0,187.9 242.0,188.4 244.0,188.9 246.0,189.4 248.0,189.9 250.0,190.4 252.0,190.9 254.0,191.4 256.0,191.9 258.0,192.4 260.0,192.9 262.0,193.4 264.0,193.8 266.0,194.3 268.0,194.8 270.0,195.3 272.0,195.7 274.0,196.2 276.0,196.6 278.0,197.1 280.0,197.6 282.0,198.0 284.0,198.5 286.0,198.9 288.0,199.4 290.0,199.8 292.0,200.2 294.0,200.7 296.0,201.1 298.0,201.5 300.0,202.0 302.0,202.4 304.0,202.8 306.0,203.2 308.0,203.7 310.0,204.1 312.0,204.5 314.0,204.9 316.0,205.3 318.0,205.7 320.0,206.1 322.0,206.5 324.0,206.9 326.0,207.3 328.0,207.7 330.0,208.1 332.0,208.5 334.0,208.9 336.0,209.3 338.0,209.7 340.0,210.1 342.0,210.5 344.0,210.9 346.0,211.3 348.0,211.7 350.0,212.0 352.0,212.4 354.0,212.8 356.0,213.2 358.0,213.6 360.0,214.0 362.0,214.3 364.0,214.7 366.0,215.1 368.0,215.4 370.0,215.8 372.0,216.2 374.0,216.6 376.0,216.9 378.0,217.3 380.0,217.6 382.0,218.0 384.0,218.3 386.0,218.7 388.0,219.0 390.0,219.4 392.0,219.7 394.0,220.1 396.0,220.4 398.0,220.8 400.0,221.1 402.0,221.4 404.0,221.8 406.0,222.1 408.0,222.4 410.0,222.7 412.0,223.1 414.0,223.4 416.0,223.7 418.0,224.0 420.0,224.3 422.0,224.7 424.0,225.0 426.0,225.3 428.0,225.6 430.0,225.9 432.0,226.2 434.0,226.5 436.0,226.8 438.0,227.2 440.0,227.5 442.0,227.8 444.0,228.1 446.0,228.3 448.0,228.6 450.0,228.9 452.0,229.2 454.0,229.4 456.0,229.7 458.0,229.9 460.0,230.2 462.0,230.5 463.0,230.6" stroke="#000000"/>
<path d="M63.5,117.0 64.2,117.2 65.0,117.5 65.8,117.8 66.5,118.1 67.2,118.5 68.0,118.9 68.8,119.3 69.5,119.8 70.2,120.2 71.0,120.7 71.8,121.2 72.5,121.7 73.2,122.2 74.0,122.7 74.8,123.2 75.5,123.7 76.2,124.2 77.0,124.7 77.8,125.2 78.5,125.7 79.2,126.2 80.0,126.7 80.8,127.2 81.5,127.7 82.2,128.1 83.0,128.6 83.8,129.1 84.5,129.6 85.2,130.0 86.0,130.5 86.8,131.0 87.5,131.4 88.2,131.9 89.0,132.3 89.8,132.8 90.5,133.3 91.2,133.7 92.0,134.2 92.8,134.6 93.5,135.1 94.2,135.5 95.0,135.9 95.8,136.4 96.5,136.8 97.2,137.3 98.0,137.7 98.8,138.1 99.5,138.5 100.0,138.8 102.0,140.0 104.0,141.1 106.0,142.2 108.0,143.2 110.0,144.3 112.0,145.4 114.0,146.4 116.0,147.4 118.0,148.4 120.0,149.4 122.0,150.4 124.0,151.4 126.0,152.3 128.0,153.3 130.0,154.2 132.0,155.1 134.0,156.1 136.0,157.0 138.0,157.8 140.0,158.7 142.0,159.6 144.0,160.4 146.0,161.3 148.0,162.1 150.0,162.9 152.0,163.8 154.0,164.6 156.0,165.4 158.0,166.1 160.0,166.9 162.0,167.7 164.0,168.4 166.0,169.2 168.0,169.9 170.0,170.7 172.0,171.4 174.0,172.1 176.0,172.8 178.0,173.5 180.0,174.2 182.0,174.8 184.0,175.5 186.0,176.2 188.0,176.8 190.0,177.5 192.0,178.1 194.0,178.7 196.0,179.4 198.0,180.0 200.0,180.6 202.0,181.2 204.0,181.8 206.0,182.4 208.0,183.0 210.0,183.6 212.0,184.2 214.0,184.8 216.0,185.4 218.0,186.0 220.0,186.6 222.0,187.1 224.0,187.7 226.0,188.3 228.0,188.8 230.0,189.4 232.0,189.9 234.0,190.5 236.0,191.0 238.0,191.6 240.0,192.1 242.0,192.6 244.0,193.2 246.0,193.7 248.0,194.2 250.0,194.8 252.0,195.3 254.0,195.8 256.0,196.3 258.0,196.9 260.0,197.4 262.0,197.9 264.0,198.4 266.0,198.9 268.0,199.4 270.0,199.9 272.0,200.4 274.0,200.9 276.0,201.4 278.0,201.8 280.0,202.3 282.0,202.8 284.0,203.3 286.0,203.7 288.0,204.2 290.0,204.7 292.0,205.1 294.0,205.6 296.0,206.0 298.0,206.5 300.0,206.9 302.0,207.4 304.0,207.8 306.0,208.3 308.0,208.7 310.0,209.1 312.0,209.6 314.0,210.0 316.0,210.5 318.0,210.9 320.0,211.3 322.0,211.8 324.0,212.2 326.0,212.6 328.0,213.1 330.0,213.5 332.0,213.9 334.0,214.4 336.0,214.8 338.0,215.2 340.0,215.6 342.0,216.1 344.0,216.5 346.0,216.9 348.0,217.3 350.0,217.7 352.0,218.2 354.0,218.6 356.0,219.0 358.0,219.4 360.0,219.8 362.0,220.2 364.0,220.6 366.0,221.0 368.0,221.4 370.0,221.8 372.0,222.2 374.0,222.6 376.0,223.0 378.0,223.4 380.0,223.7 382.0,224.1 384.0,224.5 386.0,224.9 388.0,225.3 390.0,225.6 392.0,226.0 394.0,226.4 396.0,226.7 398.0,227.1 400.0,227.4 402.0,227.8 404.0,228.2 406.0,228.5 408.0,228.9 410.0,229.2 412.0,229.5 414.0,229.9 416.0,230.2 418.0,230.6 420.0,230.9 422.0,231.2 424.0,231.6 426.0,231.9 428.0,232.2 430.0,232.6 432.0,232.9 434.0,233.3 436.0,233.6 438.0,233.9 440.0,234.3 442.0,234.6 444.0,235.0 446.0,235.3 448.0,235.7 450.0,236.0 452.0,236.4 454.0,236.7 456.0,237.1 458.0,237.4 460.0,237.8 462.0,238.1 463.0,238.3" stroke="#0000ff"/>
<path d="M63.5,114.5 64.2,114.7 65.0,114.9 65.8,115.2 66.5,115.5 67.2,115.8 68.0,116.2 68.8,116.6 69.5,117.0 70.2,117.4 71.0,117.9 71.8,118.3 72.5,118.8 73.2,119.3 74.0,119.7 74.8,120.2 75.5,120.7 76.2,121.2 77.0,121.7 77.8,122.2 78.5,122.7 79.2,123.1 80.0,123.6 80.8,124.1 81.5,124.6 82.2,125.0 83.0,125.5 83.8,126.0 84.5,126.4 85.2,126.9 86.0,127.3 86.8,127.8 87.5,128.3 88.2,128.7 89.0,129.2 89.8,129.6 90.5,130.1 91.2,130.5 92.0,131.0 92.8,131.4 93.5,131.9 94.2,132.3 95.0,132.7 95.8,133.2 96.5,133.6 97.2,134.0 98.0,134.5 98.8,134.9 99.5,135.3 100.0,135.6 102.0,136.7 104.0,137.8 106.0,138.9 108.0,140.0 110.0,141.0 112.0,142.1 114.0,143.1 116.0,144.1 118.0,145.1 120.0,146.1 122.0,147.1 124.0,148.0 126.0,149.0 128.0,149.9 130.0,150.8 132.0,151.7 134.0,152.6 136.0,153.5 138.0,154.3 140.0,155.2 142.0,156.0 144.0,156.9 146.0,157.7 148.0,158.5 150.0,159.3 152.0,160.1 154.0,160.9 156.0,161.7 158.0,162.4 160.0,163.2 162.0,163.9 164.0,164.7 166.0,165.4 168.0,166.1 170.0,166.9 172.0,167.6 174.0,168.3 176.0,168.9 178.0,169.6 180.0,170.3 182.0,171.0 184.0,171.6 186.0,172.3 188.0,172.9 190.0,173.5 192.0,174.2 194.0,174.8 196.0,175.4 198.0,176.0 200.0,176.6 202.0,177.2 204.0,177.8 206.0,178.4 208.0,179.0 210.0,179.6 212.0,180.2 214.0,180.8 216.0,181.3 218.0,181.9 220.0,182.5 222.0,183.0 224.0,183.6 226.0,184.1 228.0,184.7 230.0,185.2 232.0,185.8 234.0,186.3 236.0,186.8 238.0,187.3 240.0,187.9 242.0,188.4 244.0,188.9 246.0,189.4 248.0,189.9 250.0,190.4 252.0,190.9 254.0,191.4 256.0,191.9 258.0,192.4 260.0,192.9 262.0,193.4 264.0,193.8 266.0,194.3 268.0,194.8 270.0,195.2 272.0,195.7 274.0,196.2 276.0,196.6 278.0,197.1 280.0,197.5 282.0,198.0 284.0,198.4 286.0,198.9 288.0,199.3 290.0,199.8 292.0,200.2 294.0,200.6 296.0,201.1 298.0,201.5 300.0,201.9 302.0,202.4 304.0,202.8 306.0,203.2 308.0,203.6 310.0,204.0 312.0,204.4 314.0,204.9 316.0,205.3 318.0,205.7 320.0,206.1 322.0,206.5 324.0,206.9 326.0,207.3 328.0,207.7 330.0,208.1 332.0,208.5 334.0,208.8 336.0,209.2 338.0,209.6 340.0,210.0 342.0,210.4 344.0,210.8 346.0,211.2 348.0,211.6 350.0,211.9 352.0,212.3 354.0,212.7 356.0,213.1 358.0,213.5 360.0,213.8 362.0,214.2 364.0,214.6 366.0,215.0 368.0,215.3 370.0,215.7 372.0,216.1 374.0,216.4 376.0,216.8 378.0,217.2 380.0,217.5 382.0,217.9 384.0,218.2 386.0,218.6 388.0,218.9 390.0,219.3 392.0,219.6 394.0,219.9 396.0,220.3 398.0,220.6 400.0,220.9 402.0,221.3 404.0,221.6 406.0,221.9 408.0,222.3 410.0,222.6 412.0,222.9 414.0,223.2 416.0,223.5 418.0,223.9 420.0,224.2 422.0,224.5 424.0,224.8 426.0,225.1 428.0,225.4 430.0,225.7 432.0,226.1 434.0,226.4 436.0,226.7 438.0,227.0 440.0,227.3 442.0,227.6 444.0,227.9 446.0,228.2 448.0,228.4 450.0,228.7 452.0,229.0 454.0,229.2 456.0,229.5 458.0,229.7 460.0,230.0 462.0,230.3 463.0,230.4" stroke="#ff0000"/>
<path d="M63.5,122.2 64.2,122.3 65.0,122.5 65.8,122.7 66.5,123.0 67.2,123.3 68.0,123.6 68.8,124.0 69.5,124.3 70.2,124.7 71.0,125.1 71.8,125.5 72.5,126.0 73.2,126.4 74.0,126.9 74.8,127.3 75.5,127.8 76.2,128.2 77.0,128.7 77.8,129.2 78.5,129.6 79.2,130.1 80.0,130.6 80.8,131.1 81.5,131.5 82.2,132.0 83.0,132.4 83.8,132.9 84.5,133.4 85.2,133.8 86.0,134.3 86.8,134.8 87.5,135.2 88.2,135.7 89.0,136.1 89.8,136.6 90.5,137.0 91.2,137.5 92.0,137.9 92.8,138.4 93.5,138.8 94.2,139.2 95.0,139.7 95.8,140.1 96.5,140.5 97.2,141.0 98.0,141.4 98.8,141.8 99.5,142.3 100.0,142.5 102.0,143.6 104.0,144.7 106.0,145.8 108.0,146.9 110.0,148.0 112.0,149.0 114.0,150.0 116.0,151.0 118.0,152.0 120.0,153.0 122.0,153.9 124.0,154.9 126.0,155.8 128.0,156.8 130.0,157.7 132.0,158.6 134.0,159.4 136.0,160.3 138.0,161.2 140.0,162.0 142.0,162.8 144.0,163.7 146.0,164.5 148.0,165.3 150.0,166.1 152.0,166.9 154.0,167.7 156.0,168.4 158.0,169.2 160.0,169.9 162.0,170.7 164.0,171.4 166.0,172.1 168.0,172.8 170.0,173.6 172.0,174.3 174.0,174.9 176.0,175.6 178.0,176.3 180.0,177.0 182.0,177.6 184.0,178.3 186.0,178.9 188.0,179.6 190.0,180.2 192.0,180.8 194.0,181.5 196.0,182.1 198.0,182.7 200.0,183.3 202.0,183.9 204.0,184.5 206.0,185.1 208.0,185.7 210.0,186.2 212.0,186.8 214.0,187.4 216.0,188.0 218.0,188.5 220.0,189.1 222.0,189.6 224.0,190.2 226.0,190.7 228.0,191.3 230.0,191.8 232.0,192.4 234.0,192.9 236.0,193.4 238.0,193.9 240.0,194.5 242.0,195.0 244.0,195.5 246.0,196.0 248.0,196.5 250.0,197.0 252.0,197.5 254.0,198.0 256.0,198.4 258.0,198.9 260.0,199.4 262.0,199.9 264.0,200.3 266.0,200.8 268.0,201.3 270.0,201.7 272.0,202.2 274.0,202.7 276.0,203.1 278.0,203.5 280.0,204.0 282.0,204.4 284.0,204.9 286.0,205.3 288.0,205.7 290.0,206.2 292.0,206.6 294.0,207.0 296.0,207.4 298.0,207.8 300.0,208.2 302.0,208.6 304.0,209.0 306.0,209.4 308.0,209.8 310.0,210.2 312.0,210.6 314.0,211.0 316.0,211.4 318.0,211.7 320.0,212.1 322.0,212.5 324.0,212.9 326.0,213.3 328.0,213.7 330.0,214.1 332.0,214.5 334.0,214.8 336.0,215.2 338.0,215.6 340.0,216.0 342.0,216.4 344.0,216.8 346.0,217.2 348.0,217.6 350.0,218.0 352.0,218.4 354.0,218.7 356.0,219.1 358.0,219.5 360.0,219.9 362.0,220.3 364.0,220.7 366.0,221.0 368.0,221.4 370.0,221.8 372.0,222.1 374.0,222.5 376.0,222.9 378.0,223.2 380.0,223.6 382.0,224.0 384.0,224.3 386.0,224.7 388.0,225.0 390.0,225.4 392.0,225.7 394.0,226.0 396.0,226.4 398.0,226.7 400.0,227.0 402.0,227.3 404.0,227.7 406.0,228.0 408.0,228.3 410.0,228.6 412.0,228.9 414.0,229.2 416.0,229.5 418.0,229.8 420.0,230.1 422.0,230.4 424.0,230.7 426.0,231.0 428.0,231.3 430.0,231.5 432.0,231.8 434.0,232.1 436.0,232.4 438.0,232.7 440.0,233.0 442.0,233.2 444.0,233.5 446.0,233.7 448.0,234.0 450.0,234.2 452.0,234.5 454.0,234.7 456.0,234.9 458.0,235.1 460.0,235.4 462.0,235.6 463.0,235.7" stroke="#00ff00"/>
<path d="M63.5,124.2 64.2,124.3 65.0,124.5 65.8,124.8 66.5,125.1 67.2,125.4 68.0,125.7 68.8,126.1 69.5,126.5 70.2,126.8 71.0,127.3 71.8,127.7 72.5,128.1 73.2,128.6 74.0,129.0 74.8,129.5 75.5,130.0 76.2,130.5 77.0,130.9 77.8,131.4 78.5,131.9 79.2,132.4 80.0,132.9 80.8,133.3 81.5,133.8 82.2,134.3 83.0,134.8 83.8,135.3 84.5,135.7 85.2,136.2 86.0,136.7 86.8,137.2 87.5,137.6 88.2,138.1 89.0,138.6 89.8,139.0 90.5,139.5 91.2,139.9 92.0,140.4 92.8,140.8 93.5,141.3 94.2,141.7 95.0,142.2 95.8,142.6 96.5,143.1 97.2,143.5 98.0,144.0 98.8,144.4 99.5,144.8 100.0,145.1 102.0,146.3 104.0,147.4 106.0,148.5 108.0,149.6 110.0,150.7 112.0,151.8 114.0,152.8 116.0,153.8 118.0,154.8 120.0,155.8 122.0,156.8 124.0,157.8 126.0,158.8 128.0,159.7 130.0,160.6 132.0,161.5 134.0,162.5 136.0,163.3 138.0,164.2 140.0,165.1 142.0,165.9 144.0,166.8 146.0,167.6 148.0,168.5 150.0,169.3 152.0,170.1 154.0,170.9 156.0,171.7 158.0,172.4 160.0,173.2 162.0,174.0 164.0,174.7 166.0,175.5 168.0,176.2 170.0,177.0 172.0,177.7 174.0,178.4 176.0,179.1 178.0,179.8 180.0,180.5 182.0,181.2 184.0,181.9 186.0,182.6 188.0,183.2 190.0,183.9 192.0,184.6 194.0,185.2 196.0,185.9 198.0,186.5 200.0,187.1 202.0,187.8 204.0,188.4 206.0,189.0 208.0,189.6 210.0,190.2 212.0,190.9 214.0,191.5 216.0,192.1 218.0,192.6 220.0,193.2 222.0,193.8 224.0,194.4 226.0,195.0 228.0,195.5 230.0,196.1 232.0,196.6 234.0,197.2 236.0,197.7 238.0,198.3 240.0,198.8 242.0,199.3 244.0,199.8 246.0,200.4 248.0,200.9 250.0,201.4 252.0,201.9 254.0,202.4 256.0,202.9 258.0,203.4 260.0,203.9 262.0,204.3 264.0,204.8 266.0,205.3 268.0,205.8 270.0,206.2 272.0,206.7 274.0,207.2 276.0,207.6 278.0,208.1 280.0,208.5 282.0,209.0 284.0,209.4 286.0,209.9 288.0,210.3 290.0,210.8 292.0,211.2 294.0,211.6 296.0,212.1 298.0,212.5 300.0,212.9 302.0,213.3 304.0,213.7 306.0,214.2 308.0,214.6 310.0,215.0 312.0,215.4 314.0,215.8 316.0,216.2 318.0,216.6 320.0,217.0 322.0,217.4 324.0,217.8 326.0,218.2 328.0,218.6 330.0,219.0 332.0,219.5 334.0,219.9 336.0,220.3 338.0,220.7 340.0,221.1 342.0,221.5 344.0,222.0 346.0,222.4 348.0,222.8 350.0,223.2 352.0,223.6 354.0,224.0 356.0,224.4 358.0,224.9 360.0,225.3 362.0,225.7 364.0,226.1 366.0,226.5 368.0,226.9 370.0,227.3 372.0,227.7 374.0,228.1 376.0,228.5 378.0,228.9 380.0,229.3 382.0,229.6 384.0,230.0 386.0,230.4 388.0,230.8 390.0,231.2 392.0,231.5 394.0,231.9 396.0,232.2 398.0,232.6 400.0,233.0 402.0,233.3 404.0,233.6 406.0,234.0 408.0,234.3 410.0,234.6 412.0,235.0 414.0,235.3 416.0,235.6 418.0,236.0 420.0,236.3 422.0,236.6 424.0,236.9 426.0,237.2 428.0,237.6 430.0,237.9 432.0,238.2 434.0,238.5 436.0,238.8 438.0,239.1 440.0,239.4 442.0,239.7 444.0,240.0 446.0,240.3 448.0,240.6 450.0,240.8 452.0,241.1 454.0,241.4 456.0,241.6 458.0,241.9 460.0,242.1 462.0,242.4 463.0,242.5" stroke="#00ffff"/>
<path d="M63.5,122.9 64.2,123.0 65.0,123.2 65.8,123.5 66.5,123.7 67.2,124.0 68.0,124.3 68.8,124.7 69.5,125.1 70.2,125.4 71.0,125.8 71.8,126.3 72.5,126.7 73.2,127.1 74.0,127.6 74.8,128.0 75.5,128.5 76.2,129.0 77.0,129.4 77.8,129.9 78.5,130.4 79.2,130.8 80.0,131.3 80.8,131.8 81.5,132.3 82.2,132.7 83.0,133.2 83.8,133.7 84.5,134.1 85.2,134.6 86.0,135.0 86.8,135.5 87.5,136.0 88.2,136.4 89.0,136.9 89.8,137.3 90.5,137.8 91.2,138.2 92.0,138.7 92.8,139.1 93.5,139.6 94.2,140.0 95.0,140.4 95.8,140.9 96.5,141.3 97.2,141.7 98.0,142.2 98.8,142.6 99.5,143.0 100.0,143.3 102.0,144.4 104.0,145.5 106.0,146.6 108.0,147.7 110.0,148.7 112.0,149.8 114.0,150.8 116.0,151.8 118.0,152.8 120.0,153.8 122.0,154.8 124.0,155.7 126.0,156.7 128.0,157.6 130.0,158.5 132.0,159.4 134.0,160.3 136.0,161.1 138.0,162.0 140.0,162.9 142.0,163.7 144.0,164.5 146.0,165.3 148.0,166.2 150.0,167.0 152.0,167.7 154.0,168.5 156.0,169.3 158.0,170.1 160.0,170.8 162.0,171.6 164.0,172.3 166.0,173.0 168.0,173.7 170.0,174.5 172.0,175.2 174.0,175.9 176.0,176.5 178.0,177.2 180.0,177.9 182.0,178.6 184.0,179.2 186.0,179.9 188.0,180.5 190.0,181.1 192.0,181.8 194.0,182.4 196.0,183.0 198.0,183.6 200.0,184.2 202.0,184.8 204.0,185.4 206.0,186.0 208.0,186.6 210.0,187.2 212.0,187.8 214.0,188.4 216.0,188.9 218.0,189.5 220.0,190.1 222.0,190.6 224.0,191.2 226.0,191.7 228.0,192.3 230.0,192.8 232.0,193.4 234.0,193.9 236.0,194.4 238.0,194.9 240.0,195.5 242.0,196.0 244.0,196.5 246.0,197.0 248.0,197.5 250.0,198.0 252.0,198.5 254.0,199.0 256.0,199.5 258.0,200.0 260.0,200.4 262.0,200.9 264.0,201.4 266.0,201.9 268.0,202.3 270.0,202.8 272.0,203.3 274.0,203.7 276.0,204.2 278.0,204.6 280.0,205.1 282.0,205.5 284.0,206.0 286.0,206.4 288.0,206.8 290.0,207.3 292.0,207.7 294.0,208.1 296.0,208.5 298.0,209.0 300.0,209.4 302.0,209.8 304.0,210.2 306.0,210.6 308.0,211.0 310.0,211.4 312.0,211.8 314.0,212.2 316.0,212.5 318.0,212.9 320.0,213.3 322.0,213.7 324.0,214.1 326.0,214.5 328.0,214.9 330.0,215.3 332.0,215.7 334.0,216.0 336.0,216.4 338.0,216.8 340.0,217.2 342.0,217.6 344.0,218.0 346.0,218.4 348.0,218.8 350.0,219.2 352.0,219.6 354.0,219.9 356.0,220.3 358.0,220.7 360.0,221.1 362.0,221.5 364.0,221.9 366.0,222.2 368.0,222.6 370.0,223.0 372.0,223.3 374.0,223.7 376.0,224.1 378.0,224.4 380.0,224.8 382.0,225.2 384.0,225.5 386.0,225.9 388.0,226.2 390.0,226.6 392.0,226.9 394.0,227.2 396.0,227.6 398.0,227.9 400.0,228.2 402.0,228.5 404.0,228.9 406.0,229.2 408.0,229.5 410.0,229.8 412.0,230.1 414.0,230.4 416.0,230.7 418.0,231.0 420.0,231.3 422.0,231.6 424.0,231.9 426.0,232.2 428.0,232.5 430.0,232.7 432.0,233.0 434.0,233.3 436.0,233.6 438.0,233.9 440.0,234.2 442.0,234.4 444.0,234.7 446.0,234.9 448.0,235.2 450.0,235.4 452.0,235.7 454.0,235.9 456.0,236.1 458.0,236.3 460.0,236.6 462.0,236.8 463.0,236.9" stroke="#ff8000"/>
</g>
<path d="M63.7,0.8H461.7V246.45H63.7Z M63.7,246.45h4.2 M63.7,227.63h2.8 M63.7,211.72h2.8 M63.7,197.93h2.8 M63.7,185.77h2.8 M63.7,174.90h4.2 M63.7,133.04h2.8 M63.7,103.34h4.2 M63.7,61.48h2.8 M63.7,31.79h2.8 M63.7,8.75h4.2 M461.7,237.37h-4.0 M461.7,227.04h-2.8 M461.7,216.72h-2.8 M461.7,206.40h-2.8 M461.7,196.08h-2.8 M461.7,185.75h-4.0 M461.7,175.43h-2.8 M461.7,165.11h-2.8 M461.7,154.78h-2.8 M461.7,144.46h-2.8 M461.7,134.14h-4.0 M461.7,123.81h-2.8 M461.7,113.49h-2.8 M461.7,103.17h-2.8 M461.7,92.84h-2.8 M461.7,82.52h-4.0 M461.7,72.20h-2.8 M461.7,61.87h-2.8 M461.7,51.55h-2.8 M461.7,41.23h-2.8 M461.7,30.90h-4.0 M461.7,20.58h-2.8 M461.7,10.26h-2.8 M63.70,246.45v-4.2 M63.70,0.8v4.2 M83.60,246.45v-2.8 M83.60,0.8v2.8 M103.50,246.45v-2.8 M103.50,0.8v2.8 M123.40,246.45v-2.8 M123.40,0.8v2.8 M143.30,246.45v-4.2 M143.30,0.8v4.2 M163.20,246.45v-2.8 M163.20,0.8v2.8 M183.10,246.45v-2.8 M183.10,0.8v2.8 M203.00,246.45v-2.8 M203.00,0.8v2.8 M222.90,246.45v-4.2 M222.90,0.8v4.2 M242.80,246.45v-2.8 M242.80,0.8v2.8 M262.70,246.45v-2.8 M262.70,0.8v2.8 M282.60,246.45v-2.8 M282.60,0.8v2.8 M302.50,246.45v-4.2 M302.50,0.8v4.2 M322.40,246.45v-2.8 M322.40,0.8v2.8 M342.30,246.45v-2.8 M342.30,0.8v2.8 M362.20,246.45v-2.8 M362.20,0.8v2.8 M382.10,246.45v-4.2 M382.10,0.8v4.2 M402.00,246.45v-2.8 M402.00,0.8v2.8 M421.90,246.45v-2.8 M421.90,0.8v2.8 M441.80,246.45v-2.8 M441.80,0.8v2.8 M461.70,246.45v-4.2 M461.70,0.8v4.2" fill="none" stroke="#666" stroke-width="0.55"/>
<g fill="#000">
<text x="60.6" y="253.3" text-anchor="end" font-size="22" textLength="21.5" lengthAdjust="spacingAndGlyphs">50</text>
<text x="60.6" y="181.8" text-anchor="end" font-size="22" textLength="32.3" lengthAdjust="spacingAndGlyphs">100</text>
<text x="60.6" y="110.2" text-anchor="end" font-size="22" textLength="32.3" lengthAdjust="spacingAndGlyphs">200</text>
<text x="60.6" y="15.7" text-anchor="end" font-size="22" textLength="32.3" lengthAdjust="spacingAndGlyphs">500</text>
<text x="64.0" y="268.6" text-anchor="middle" font-size="22" textLength="10.8" lengthAdjust="spacingAndGlyphs">0</text>
<text x="143.6" y="268.6" text-anchor="middle" font-size="22" textLength="21.5" lengthAdjust="spacingAndGlyphs">20</text>
<text x="223.2" y="268.6" text-anchor="middle" font-size="22" textLength="21.5" lengthAdjust="spacingAndGlyphs">40</text>
<text x="302.8" y="268.6" text-anchor="middle" font-size="22" textLength="21.5" lengthAdjust="spacingAndGlyphs">60</text>
<text x="382.4" y="268.6" text-anchor="middle" font-size="22" textLength="21.5" lengthAdjust="spacingAndGlyphs">80</text>
<text x="462.0" y="268.6" text-anchor="middle" font-size="22" textLength="32.3" lengthAdjust="spacingAndGlyphs">100</text>
<text x="92.7" y="32" font-size="25" textLength="16.5" lengthAdjust="spacingAndGlyphs" stroke="#000" stroke-width="0.3">Ir</text>
<text x="72.3" y="108.6" font-size="24.6" textLength="17" lengthAdjust="spacingAndGlyphs" stroke="#000" stroke-width="0.3">V</text>
<text x="71.3" y="176.4" font-size="22.8" textLength="26.6" lengthAdjust="spacingAndGlyphs" stroke="#000" stroke-width="0.3">Ba</text>
<text x="262.5" y="300.8" font-size="22" text-anchor="middle">l, nm</text>
<text transform="translate(16.4,122.6) rotate(-90)" font-size="21" text-anchor="middle" stroke="#000" stroke-width="0.25">A, zJ</text>
</g>
<path d="M226.8,15.8H263" stroke="#000000" stroke-width="2.3" fill="none"/>
<text x="273" y="20.8" font-size="17.5" fill="#000000" textLength="128.8" lengthAdjust="spacingAndGlyphs">full Lifshitz theory</text>
<path d="M226.8,35.6H263" stroke="#0000ff" stroke-width="2.3" fill="none"/>
<text x="273" y="40.8" font-size="17.5" fill="#0000ff" textLength="116" lengthAdjust="spacingAndGlyphs">lt approximation</text>
<path d="M226.8,56.4H263" stroke="#ff0000" stroke-width="2.3" fill="none"/>
<text x="273" y="61.3" font-size="17.5" fill="#ff0000" textLength="158.8" lengthAdjust="spacingAndGlyphs">lt, mod approximation</text>
<path d="M226.8,77.6H263" stroke="#00ff00" stroke-width="2.3" fill="none"/>
<text x="271.2" y="82.0" font-size="17.5" fill="#00ff00" textLength="125" lengthAdjust="spacingAndGlyphs">dp approximation</text>
<path d="M226.8,98.9H263" stroke="#00ffff" stroke-width="2.3" fill="none"/>
<text x="272.2" y="103.4" font-size="17.5" fill="#00ffff" textLength="142.6" lengthAdjust="spacingAndGlyphs">lt, dp approximation</text>
<path d="M226.8,118.5H263" stroke="#ff8000" stroke-width="2.3" fill="none"/>
<text x="270" y="124.0" font-size="17.5" fill="#ff8000" textLength="185.1" lengthAdjust="spacingAndGlyphs">lt, dp, mod approximation</text>
</svg>
</body></html>
